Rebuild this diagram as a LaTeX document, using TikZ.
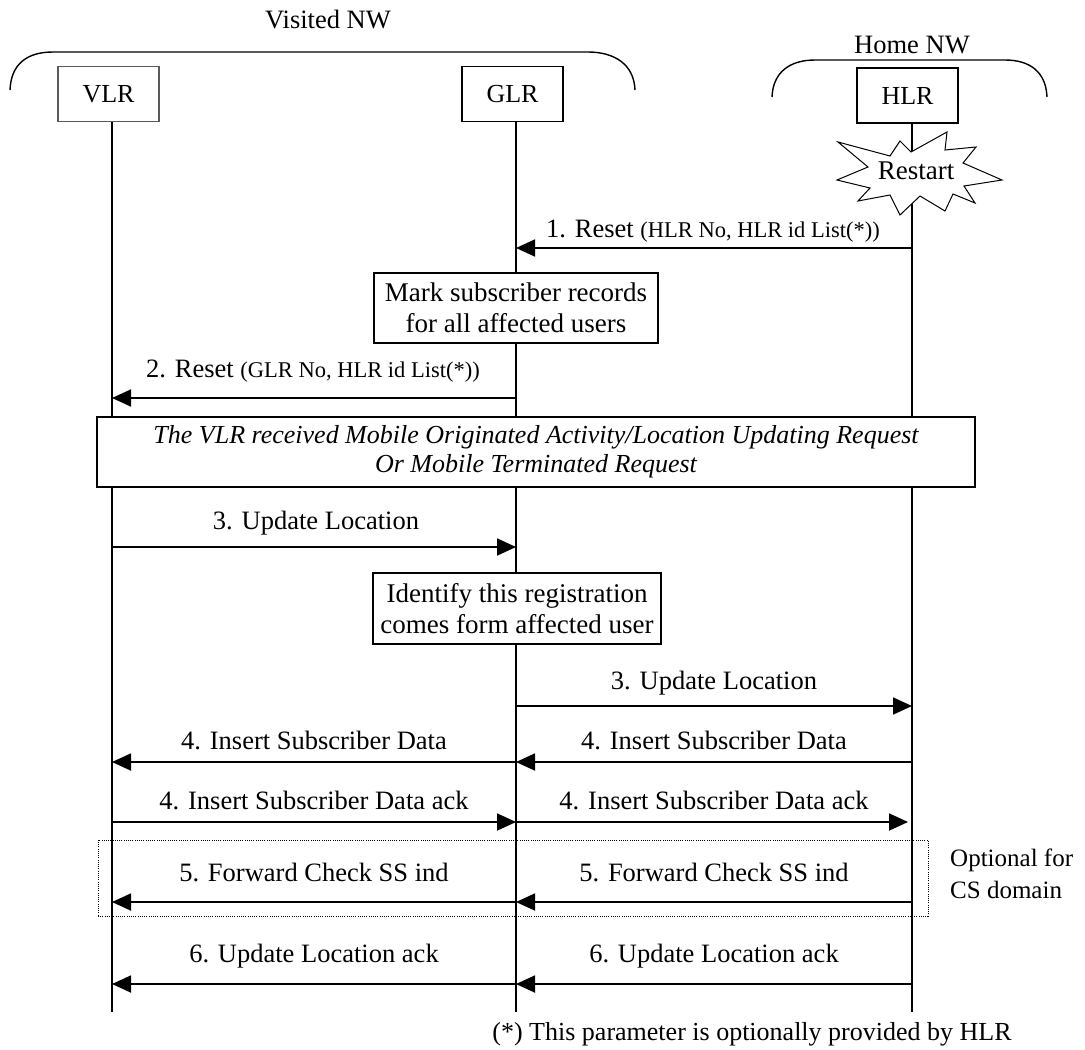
\documentclass[tikz,border=0pt]{standalone}
\usepackage{fontspec}
\setmainfont{Liberation Serif}
\usetikzlibrary{arrows.meta}
\newcommand\sm[1]{{\fontsize{22.5}{26}\selectfont #1}}
\begin{document}
\begin{tikzpicture}[x=1pt,y=-1pt,
  lbl/.style={font=\fontsize{26.5}{30}\selectfont, inner sep=0pt},
  ent/.style={draw, fill=white, line width=1.4pt, minimum width=101pt, minimum height=55pt, inner sep=0pt, font=\fontsize{26}{30}\selectfont},
  notebox/.style={draw, fill=white, line width=1.4pt, align=center, inner sep=0pt, font=\fontsize{27}{31}\selectfont},
  life/.style={line width=1.1pt},
  msg/.style={line width=1.8pt, -{Triangle[length=19pt,width=17pt]}},
  bracket/.style={line width=1.4pt}
]
\useasboundingbox (0,0) rectangle (1085,1050);

% titles
\node[lbl] (tv) at (328,20) {Visited NW};
\node[lbl] (th) at (912,45) {Home NW};

% brackets
\draw[bracket] (10,90) .. controls (11,64) and (27,52) .. (53,52) -- (588,52) .. controls (614,52) and (634,64) .. (635,90);
\draw[bracket] (772,97) .. controls (773,72) and (790,60) .. (815,60) -- (1005,60) .. controls (1030,60) and (1046,72) .. (1047,97);

% entities
\node[ent, draw=black!65, line width=1.1pt] (vlr) at (108.5,94) {VLR};
\node[ent, line width=1.6pt] (glr) at (512.5,94) {GLR};
\node[ent] (hlr) at (907.5,95.5) {HLR};

% lifelines
\coordinate (vtop) at (112,121.5);
\coordinate (gtop) at (516,121.5);
\coordinate (htop) at (912,123);
\coordinate (vbot) at (112,1012);
\coordinate (gbot) at (516,1012);
\coordinate (hbot) at (912,1012);
\draw[life] (vtop) -- (vbot);
\draw[life] (gtop) -- (gbot);
\draw[life] (htop) -- (hbot);

% restart star
\draw[fill=white, line width=1pt] (838,142) -- (890,156) -- (900,141) -- (911,152) -- (947,132) -- (945,150)
  -- (976,147) -- (963,163) -- (1002,180) -- (964,186) -- (975,203) -- (953,194) -- (945,211)
  -- (920,196) -- (900,215) -- (890,195) -- (858,201) -- (870,188) -- (837,180) -- (868,167) -- cycle;
\node[font=\fontsize{27}{31}\selectfont, inner sep=0pt] (restart) at (916,171) {Restart};

% message coordinates
\foreach \n/\y in {a/248, b/398, c/547, d/706, e/762, f/822, g/902, h/984} {
  \coordinate (V\n) at (112,\y);
  \coordinate (G\n) at (516,\y);
  \coordinate (H\n) at (912,\y);
}
\coordinate (Hf2) at (908,822);

% 1
\node[lbl] (l1) at (713,231) {1. Reset \sm{(HLR No, HLR id List(*))}};
\draw[msg] (Ha) -- (Ga);
\node[notebox, minimum width=284pt, minimum height=70pt] (mark) at (516,308) {Mark subscriber records\\for all affected users};

% 2
\node[lbl] (l2) at (313,371) {2. Reset \sm{(GLR No, HLR id List(*))}};
\draw[msg] (Gb) -- (Vb);

% big box
\node[notebox, font=\fontsize{26}{29}\selectfont\itshape, minimum width=878pt, minimum height=70pt] (recv) at (536,452)
  {The VLR received Mobile Originated Activity/Location Updating Request\\Or Mobile Terminated Request};

% 3
\node[lbl] (l3) at (316,523) {3. Update Location};
\draw[msg] (Vc) -- (Gc);
\node[notebox, minimum width=288pt, minimum height=71pt] (ident) at (517,608.5) {Identify this registration\\comes form affected user};
\node[lbl] (l3b) at (714,683) {3. Update Location};
\draw[msg] (Gd) -- (Hd);

% 4
\node[lbl] (l4v) at (314,740) {4. Insert Subscriber Data};
\node[lbl] (l4h) at (714,740) {4. Insert Subscriber Data};
\draw[msg] (Ge) -- (Ve);
\draw[msg] (He) -- (Ge);

\node[lbl] (l4av) at (314,800) {4. Insert Subscriber Data ack};
\node[lbl] (l4ah) at (714,800) {4. Insert Subscriber Data ack};
\draw[msg] (Vf) -- (Gf);
\draw[msg] (Gf) -- (Hf2);

% 5 optional
\node[draw, line width=1pt, dash pattern=on 1pt off 1.2pt, minimum width=830pt, minimum height=76pt, inner sep=0pt] (opt) at (513,878) {};
\node[lbl] (l5v) at (314,872) {5. Forward Check SS ind};
\node[lbl] (l5h) at (714,872) {5. Forward Check SS ind};
\draw[msg] (Gg) -- (Vg);
\draw[msg] (Hg) -- (Gg);
\node[lbl, align=left, anchor=west, font=\fontsize{25}{32}\selectfont] (optlbl) at (950,874) {Optional for\\CS domain};

% 6
\node[lbl] (l6v) at (314,956) {6. Update Location ack};
\node[lbl] (l6h) at (714,956) {6. Update Location ack};
\draw[msg] (Gh) -- (Vh);
\draw[msg] (Hh) -- (Gh);

% footnote
\node[lbl, font=\fontsize{26}{29}\selectfont] (foot) at (752,1034) {(*) This parameter is optionally provided by HLR};
\end{tikzpicture}
\end{document}
